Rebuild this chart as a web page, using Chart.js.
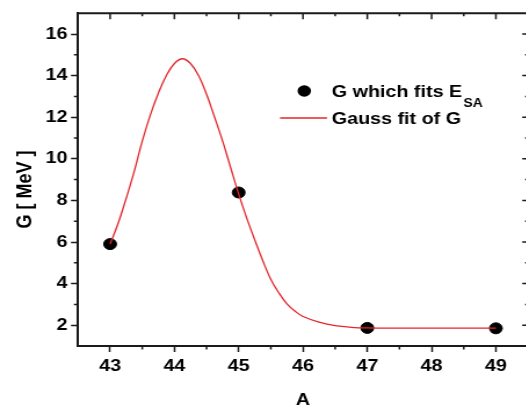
<!DOCTYPE html>
<html>
<head>
<meta charset="utf-8">
<script src="https://cdn.jsdelivr.net/npm/chart.js@4.4.1/dist/chart.umd.min.js"></script>
<style>
  html, body { margin: 0; padding: 0; background: #fff; overflow: hidden; }
  /* the reference is stretched sideways, so the whole chart is too */
  #wrap { width: 470px; height: 411px; transform: scaleX(1.16); transform-origin: 0 0; }
</style>
</head>
<body>
<div id="wrap"><canvas id="chart" width="470" height="411"></canvas></div>
<script>
// measured points
const massA = [43, 45, 47, 49];
const widthG = [5.9, 8.38, 1.87, 1.85];

// Gauss fit curve
const fitA = [43, 43.125, 43.25, 43.375, 43.5, 43.625, 43.75, 43.875, 44, 44.125, 44.25,
              44.375, 44.5, 44.625, 44.75, 44.875, 45, 45.125, 45.25, 45.375, 45.5, 45.625,
              45.75, 45.875, 46, 46.25, 46.5, 46.75, 47, 47.5, 48, 48.5, 49];
const fitG = [5.9, 6.9, 8.1, 9.4, 10.85, 12.1, 13.15, 14.0, 14.58, 14.81, 14.58,
              14.0, 13.1, 12.0, 10.85, 9.57, 8.3, 7.15, 6.1, 5.1, 4.2, 3.55,
              3.03, 2.68, 2.42, 2.15, 1.98, 1.9, 1.87, 1.86, 1.86, 1.86, 1.86];

// tick labels
const xTicks = [43, 44, 45, 46, 47, 48, 49];
const xMinor = [43.5, 44.5, 45.5, 46.5, 47.5, 48.5];
const yTicks = [2, 4, 6, 8, 10, 12, 14, 16];
const yMinor = [3, 5, 7, 9, 11, 13, 15];

const FONT = '"Liberation Sans", Arial, Helvetica, sans-serif';
const INK = '#1a1a1a';
const RED = '#e3262b';

// Frame, minor ticks, y title and legend
const framePlugin = {
    id: 'frame',
    afterDraw(chart) {
        const ctx = chart.ctx;
        const area = chart.chartArea;
        const xs = chart.scales.x;
        const ys = chart.scales.y;

        ctx.save();
        ctx.strokeStyle = INK;

        // top and right spines
        ctx.lineWidth = 2;
        ctx.beginPath();
        ctx.moveTo(area.left, area.top);
        ctx.lineTo(area.right, area.top);
        ctx.lineTo(area.right, area.bottom);
        ctx.stroke();

        ctx.lineWidth = 1.5;
        ctx.beginPath();
        xTicks.forEach(v => {
            const px = xs.getPixelForValue(v);
            ctx.moveTo(px, area.top);
            ctx.lineTo(px, area.top + 6);
        });
        xMinor.forEach(v => {
            const px = xs.getPixelForValue(v);
            ctx.moveTo(px, area.top);
            ctx.lineTo(px, area.top + 3);
            ctx.moveTo(px, area.bottom);
            ctx.lineTo(px, area.bottom + 3.5);
        });
        yTicks.forEach(v => {
            const py = ys.getPixelForValue(v);
            ctx.moveTo(area.right - 5, py);
            ctx.lineTo(area.right, py);
        });
        yMinor.forEach(v => {
            const py = ys.getPixelForValue(v);
            ctx.moveTo(area.right - 2.5, py);
            ctx.lineTo(area.right, py);
            ctx.moveTo(area.left - 3.5, py);
            ctx.lineTo(area.left, py);
        });
        ctx.stroke();

        // y axis title
        ctx.fillStyle = '#000';
        ctx.font = 'bold 18px ' + FONT;
        ctx.textAlign = 'center';
        ctx.textBaseline = 'middle';
        ctx.translate(22, 189.5);
        ctx.rotate(-Math.PI / 2);
        ctx.fillText('G [ MeV ]', 0, 0);
        ctx.setTransform(1, 0, 0, 1, 0, 0);

        // legend
        ctx.beginPath();
        ctx.arc(262.3, 91, 5.8, 0, Math.PI * 2);
        ctx.fill();

        ctx.textAlign = 'left';
        ctx.textBaseline = 'alphabetic';
        ctx.font = 'bold 17px ' + FONT;
        const first = 'G which fits E';
        ctx.fillText(first, 286, 97);
        const w = ctx.measureText(first).width;
        ctx.font = 'bold 12px ' + FONT;
        ctx.fillText('SA', 286 + w + 1, 106.5);

        ctx.strokeStyle = RED;
        ctx.lineWidth = 1.3;
        ctx.beginPath();
        ctx.moveTo(241.4, 118);
        ctx.lineTo(281.9, 118);
        ctx.stroke();

        ctx.font = 'bold 17px ' + FONT;
        ctx.fillText('Gauss fit of G', 286, 124);

        ctx.restore();
    }
};

new Chart(document.getElementById('chart'), {
    type: 'scatter',
    data: {
        datasets: [
            {
                label: 'Gauss fit of G',
                data: fitA.map((a, i) => ({ x: a, y: fitG[i] })),
                showLine: true,
                borderColor: RED,
                borderWidth: 1.3,
                pointRadius: 0,
                tension: 0.4
            },
            {
                label: 'G which fits E_SA',
                data: massA.map((a, i) => ({ x: a, y: widthG[i] })),
                showLine: false,
                backgroundColor: '#000',
                borderColor: '#000',
                pointRadius: 5.5,
                pointHoverRadius: 5.5
            }
        ]
    },
    options: {
        responsive: false,
        animation: false,
        layout: { padding: { top: 7, right: 14.8, left: 0, bottom: 0 } },
        plugins: {
            legend: { display: false },
            tooltip: { enabled: false }
        },
        scales: {
            x: {
                type: 'linear',
                min: 42.5,
                max: 49.5,
                afterBuildTicks: s => { s.ticks = xTicks.map(v => ({ value: v })); },
                afterFit: s => { s.height = 65; },
                ticks: {
                    color: '#000',
                    padding: 4,
                    maxRotation: 0,
                    font: { family: FONT, size: 17, weight: 'bold' }
                },
                grid: {
                    drawOnChartArea: false,
                    tickLength: 6,
                    tickWidth: 1.5,
                    tickColor: INK
                },
                border: { display: true, color: INK, width: 2 },
                title: {
                    display: true,
                    text: 'A',
                    color: '#000',
                    padding: 0,
                    font: { family: FONT, size: 17, weight: 'bold' }
                }
            },
            y: {
                type: 'linear',
                min: 1,
                max: 17,
                afterBuildTicks: s => { s.ticks = yTicks.map(v => ({ value: v })); },
                afterFit: s => { s.width = 67.2; },
                ticks: {
                    color: '#000',
                    padding: 3,
                    font: { family: FONT, size: 17, weight: 'bold' }
                },
                grid: {
                    drawOnChartArea: false,
                    tickLength: 6,
                    tickWidth: 1.5,
                    tickColor: INK
                },
                border: { display: true, color: INK, width: 2 }
            }
        }
    },
    plugins: [framePlugin]
});
</script>
</body>
</html>
